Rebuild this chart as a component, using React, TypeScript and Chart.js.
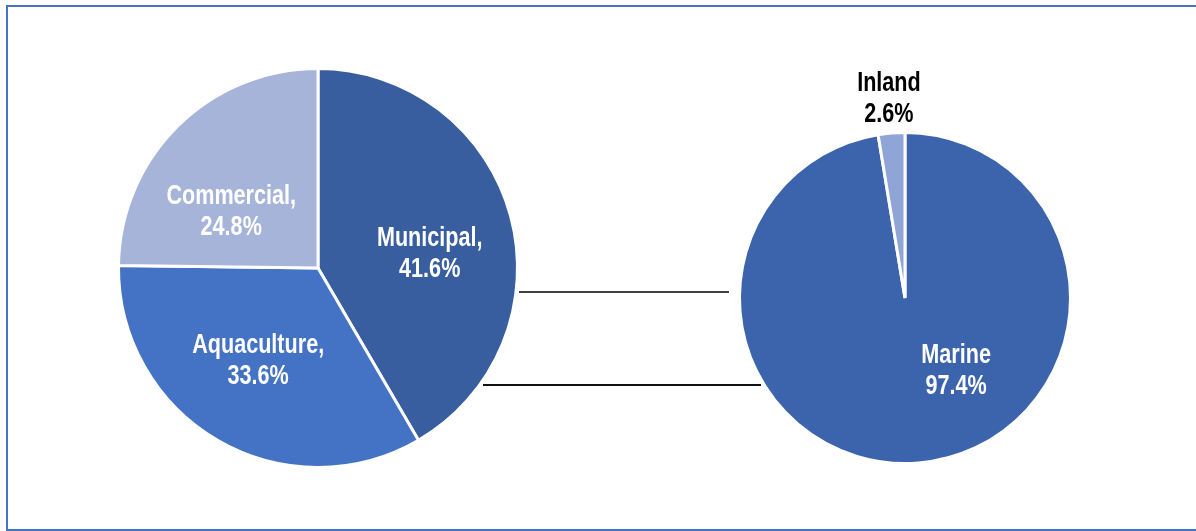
import React, { useEffect, useRef } from "react";
import { Chart, registerables } from "chart.js";

Chart.register(...registerables);

// ---- Data ----
const sectorLabels = ["Municipal", "Aquaculture", "Commercial"];
const sectorValues = [41.6, 33.6, 24.8];
const sectorColors = ["#385E9F", "#4472C4", "#A6B4D9"];
const sectorTextColors = ["#FFFFFF", "#FFFFFF", "#FFFFFF"];
// first-line baseline anchor relative to pie centre, in units of radius
const sectorLabelAnchors = [
  [0.56, -0.11],
  [-0.3, 0.425],
  [-0.435, -0.32],
];

const originLabels = ["Marine", "Inland"];
const originValues = [97.4, 2.6];
const originColors = ["#3C64AD", "#8FA5D8"];
const originTextColors = ["#FFFFFF", "#000000"];
const originLabelAnchors = [
  [0.309, 0.394],
  [-0.097, -1.248],
];

const FONT = "'Liberation Sans', Arial, sans-serif";
const FONT_SIZE = 27;
const NARROW = 0.8;
const LINE_GAP = 31;

function makeLabelPlugin(
  labels: string[],
  sep: string,
  anchors: number[][],
  textColors: string[]
) {
  return {
    id: "pieLabels",
    afterDatasetsDraw(chart: any) {
      const ctx = chart.ctx;
      const meta = chart.getDatasetMeta(0);
      const data = chart.data.datasets[0].data as number[];
      meta.data.forEach((arc: any, i: number) => {
        const r = arc.outerRadius;
        const x = arc.x + anchors[i][0] * r;
        const y = arc.y + anchors[i][1] * r;
        ctx.save();
        ctx.translate(x, y);
        ctx.scale(NARROW, 1);
        ctx.font = `bold ${FONT_SIZE}px ${FONT}`;
        ctx.textAlign = "center";
        ctx.textBaseline = "alphabetic";
        ctx.fillStyle = textColors[i];
        ctx.fillText(labels[i] + sep, 0, 0);
        ctx.fillText(data[i].toFixed(1) + "%", 0, LINE_GAP);
        ctx.restore();
      });
    },
  };
}

function PieCanvas(props: {
  labels: string[];
  values: number[];
  colors: string[];
  sep: string;
  anchors: number[][];
  textColors: string[];
  padding: number;
  style: React.CSSProperties;
  size: number;
}) {
  const ref = useRef<HTMLCanvasElement | null>(null);
  useEffect(() => {
    if (!ref.current) return;
    const chart = new Chart(ref.current, {
      type: "pie",
      data: {
        labels: props.labels,
        datasets: [
          {
            data: props.values,
            backgroundColor: props.colors,
            borderColor: "#FFFFFF",
            borderWidth: 3,
          },
        ],
      },
      options: {
        animation: false,
        responsive: false,
        events: [],
        rotation: 0,
        layout: { padding: props.padding },
        plugins: {
          legend: { display: false },
          tooltip: { enabled: false },
        },
      },
      plugins: [makeLabelPlugin(props.labels, props.sep, props.anchors, props.textColors)],
    });
    return () => chart.destroy();
  }, []);
  return (
    <canvas
      ref={ref}
      width={props.size}
      height={props.size}
      style={{ position: "absolute", width: props.size, height: props.size, ...props.style }}
    />
  );
}

export default function App() {
  return (
    <div
      style={{
        position: "fixed",
        left: 0,
        top: 0,
        width: 1196,
        height: 531,
        background: "#FFFFFF",
        overflow: "hidden",
      }}
    >
      <div
        style={{
          position: "absolute",
          left: 6,
          top: 5,
          width: 1200,
          height: 522,
          border: "2px solid #4472C4",
          boxSizing: "content-box",
        }}
      />
      <PieCanvas
        labels={sectorLabels}
        values={sectorValues}
        colors={sectorColors}
        sep=","
        anchors={sectorLabelAnchors}
        textColors={sectorTextColors}
        padding={9}
        size={420}
        style={{ left: 108, top: 58 }}
      />
      <PieCanvas
        labels={originLabels}
        values={originValues}
        colors={originColors}
        sep=""
        anchors={originLabelAnchors}
        textColors={originTextColors}
        padding={73}
        size={480}
        style={{ left: 665, top: 58 }}
      />
      <div
        style={{
          position: "absolute",
          left: 519,
          top: 291,
          width: 210,
          height: 0,
          borderTop: "2px solid #404040",
        }}
      />
      <div
        style={{
          position: "absolute",
          left: 483,
          top: 384,
          width: 278,
          height: 0,
          borderTop: "2px solid #111111",
        }}
      />
    </div>
  );
}
